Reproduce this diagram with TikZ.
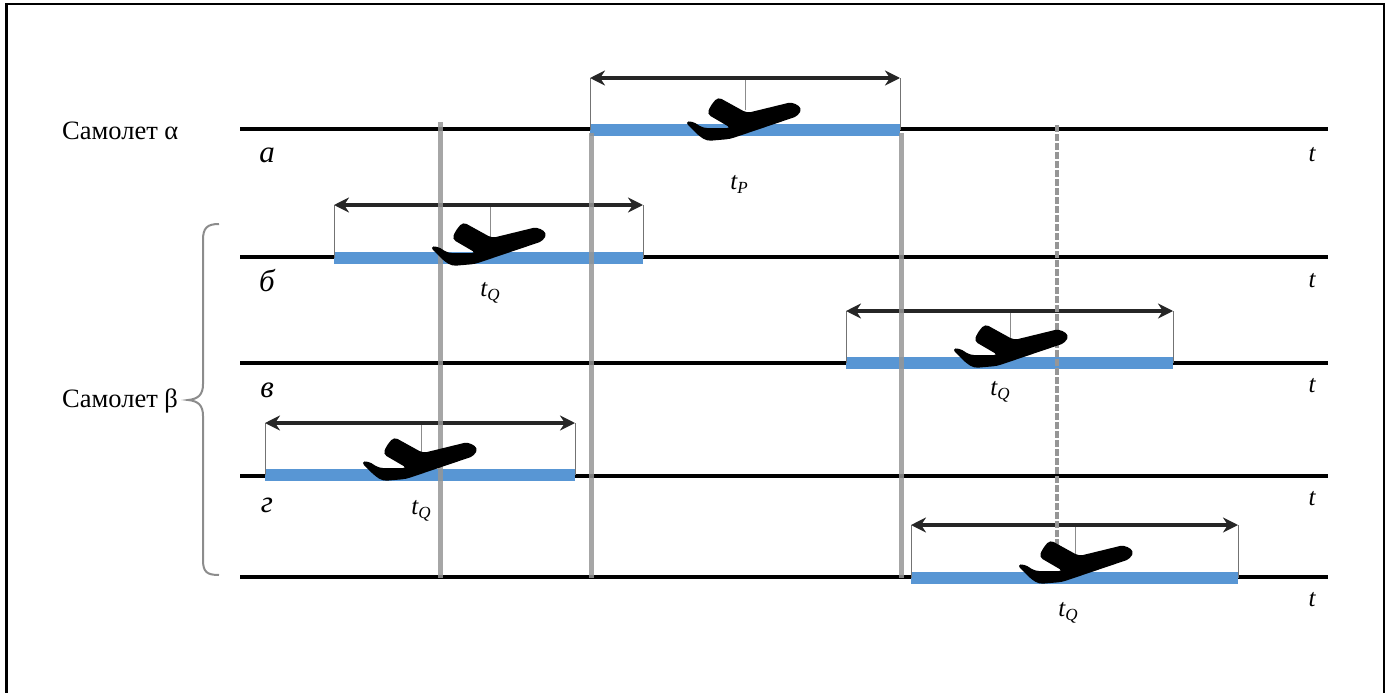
\documentclass[tikz,border=0pt]{standalone}
\usepackage{fontspec}
\setmainfont{Liberation Serif}
\usetikzlibrary{arrows.meta}
\definecolor{barblue}{RGB}{88,150,212}
\definecolor{vgray}{RGB}{150,150,150}
\tikzset{
  timeline/.style={line width=4.5pt, black},
  bar/.style={line width=12pt, barblue},
  span/.style={line width=3.4pt, black!85, {Stealth[length=15pt,width=15pt]}-{Stealth[length=15pt,width=15pt]}},
  endline/.style={line width=1pt, black!55},
  midtick/.style={line width=1pt, black!45},
  guide/.style={line width=5pt, vgray, opacity=0.85},
  guidedash/.style={line width=3.5pt, vgray, dash pattern=on 7pt off 2pt},
  lbl/.style={font=\fontsize{26.5}{28}\selectfont, inner sep=0pt},
  ilbl/.style={font=\fontsize{31}{32}\selectfont\itshape, inner sep=0pt},
  tlbl/.style={font=\fontsize{25}{26}\selectfont\itshape, inner sep=0pt},
  plane/.pic={\fill[black, rounded corners=4pt] (-34,-20) -- (-27,-28) -- (2,-12) -- (47,-23) -- (57,-17) -- (53,-9) -- (-15,14) -- (-38,16) -- (-46,11) -- (-60,-3) -- (-53,-4) -- (-42,3) -- (-14,3) -- (-38,-11) -- cycle;}
}
\newcommand{\tsub}[1]{{\itshape t}\raisebox{-0.35ex}{\fontsize{17}{17}\selectfont\itshape #1}}
\begin{document}
\begin{tikzpicture}[x=1pt,y=-1pt]
\useasboundingbox (0,0) rectangle (1389,693);
\clip (0,0) rectangle (1389,693);
\draw[line width=2.5pt] (6.5,4) rectangle (1384,720);

% timelines
\foreach \n/\y in {a/129,b/257,c/363,d/476,e/577}{
  \coordinate (L\n s) at (240,\y);
  \coordinate (L\n e) at (1328,\y);
  \draw[timeline] (L\n s) -- (L\n e);
}

% bars, spans
\foreach \n/\xa/\xb/\y/\ya/\xm in {a/590/900/130/78/745, b/334/643/258/205/490, c/846/1173/363/311/1010, d/265/575/475/423/421, e/911/1238/578/525/1075}{
  \coordinate (B\n s) at (\xa,\y);
  \coordinate (B\n e) at (\xb,\y);
  \coordinate (A\n s) at (\xa,\ya);
  \coordinate (A\n e) at (\xb,\ya);
  \coordinate (M\n t) at (\xm,\ya);
  \coordinate (M\n b) at (\xm,\y-20);
  \draw[bar] (B\n s) -- (B\n e);
  \draw[endline] (A\n s) -- (B\n s);
  \draw[endline] (A\n e) -- (B\n e);
  \draw[midtick] (M\n t) -- (M\n b);
  \draw[span] (A\n s) -- (A\n e);
}

% vertical guides
\coordinate (G1t) at (440,122); \coordinate (G1b) at (440,578);
\coordinate (G2t) at (591,133); \coordinate (G2b) at (591,578);
\coordinate (G3t) at (901,133); \coordinate (G3b) at (901,578);
\coordinate (G4t) at (1057,125); \coordinate (G4b) at (1057,560);
\draw[guide] (G1t) -- (G1b);
\draw[guide] (G2t) -- (G2b);
\draw[guide] (G3t) -- (G3b);
\draw[guidedash] (G4t) -- (G4b);

% planes
\pic at (745,125) {plane};
\pic at (490,250) {plane};
\pic at (1012,352) {plane};
\pic at (421,465) {plane};
\pic at (1077,568) {plane};

% brace
\coordinate (BRt) at (219,224);
\coordinate (BRtip) at (188,400);
\coordinate (BRb) at (219,575);
\draw[line width=2pt, black!45] (BRt) .. controls (207,224) and (203,228) .. (203,240) -- (203,384) .. controls (203,395) and (198,399) .. (BRtip) .. controls (198,401) and (203,405) .. (203,416) -- (203,560) .. controls (203,572) and (207,575) .. (BRb);

% labels
\node[lbl, anchor=west] (alpha) at (62,131) {Самолет α};
\node[lbl, anchor=west] (beta) at (62,401) {Самолет β};
\node[ilbl] (la) at (267,155) {а};
\node[ilbl] (lb) at (267,281) {б};
\node[ilbl] (lc) at (267,390) {в};
\node[ilbl] (ld) at (267,505) {г};
\foreach \n/\y in {a/155,b/281,c/386,d/499,e/600}{
  \node[tlbl] (t\n) at (1312,\y) {t};
}
\node[tlbl] (tP) at (739,184) {\tsub{P}};
\node[tlbl] (tQb) at (490,293) {\tsub{Q}};
\node[tlbl] (tQc) at (1000,392) {\tsub{Q}};
\node[tlbl] (tQd) at (421,511) {\tsub{Q}};
\node[tlbl] (tQe) at (1068,613) {\tsub{Q}};
\end{tikzpicture}
\end{document}
